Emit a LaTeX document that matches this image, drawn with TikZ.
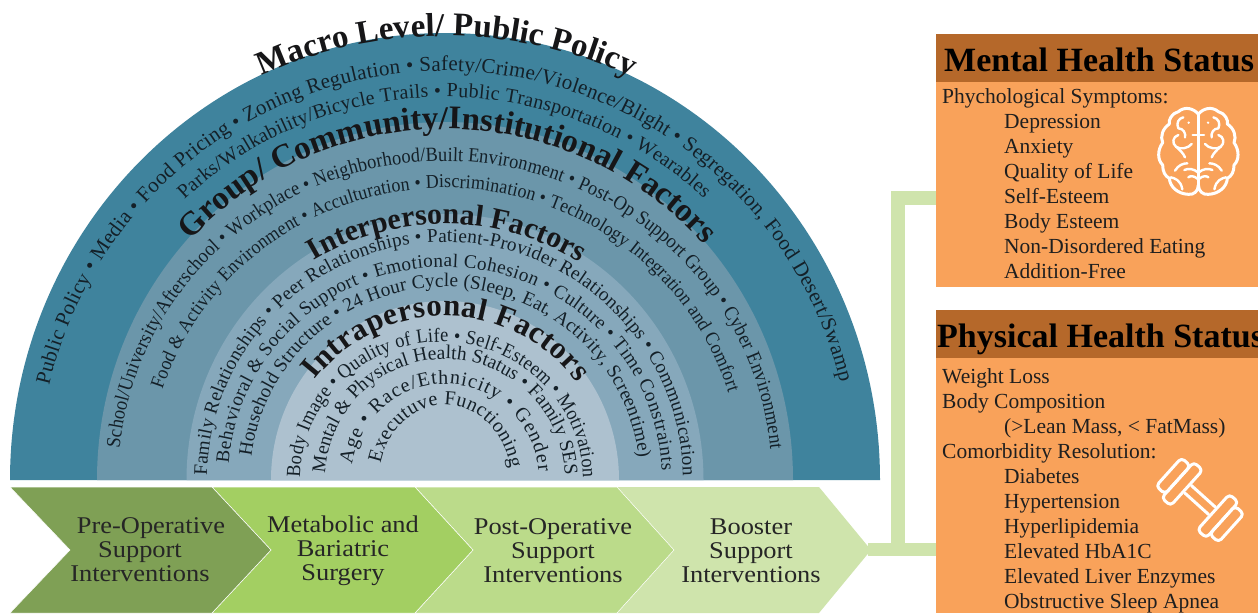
\documentclass[tikz,border=0pt]{standalone}
\usepackage{fontspec}
\setmainfont{Liberation Serif}
\newfontfamily\narrowserif[FakeStretch=0.92]{Liberation Serif}
\newfontfamily\wideserif[FakeStretch=1.1]{Liberation Serif}
\usetikzlibrary{decorations.text}
\definecolor{ringa}{RGB}{63,131,157}
\definecolor{ringb}{RGB}{107,150,170}
\definecolor{ringc}{RGB}{134,168,187}
\definecolor{ringd}{RGB}{173,193,207}
\definecolor{inkblue}{RGB}{20,32,40}
\definecolor{titleink}{RGB}{22,22,24}
\definecolor{chevA}{RGB}{127,160,85}
\definecolor{chevB}{RGB}{163,207,98}
\definecolor{chevC}{RGB}{187,219,138}
\definecolor{chevD}{RGB}{207,228,172}
\definecolor{headorange}{RGB}{181,104,42}
\definecolor{bodyorange}{RGB}{249,162,90}
\newcommand{\minorfont}[1]{\fontsize{#1}{24}\selectfont\color{inkblue}}
\newcommand{\tightfont}[1]{\narrowserif\fontsize{#1}{24}\selectfont\color{inkblue}}
\newcommand{\majorfont}[1]{\fontsize{#1}{36}\selectfont\bfseries\color{titleink}}
% #1 cx #2 rx #3 ry #4 start #5 end #6 font #7 text
\newcommand{\arctext}[7]{%
  \path[decorate,decoration={text along path,text align={fit to path},text={|#6|#7}}]
    (#1,-480) ++(#4:#2pt and #3pt) arc[start angle=#4,end angle=#5,x radius=#2pt,y radius=#3pt];}
\newcommand{\ringfill}[3]{%
  \fill[#3] (445,-480) ++(-#1,0) arc[start angle=180,end angle=0,x radius=#1pt,y radius=#2pt] -- cycle;}
\tikzset{
  panelbox/.style={anchor=north west,inner sep=0pt,outer sep=0pt,fill=bodyorange,minimum width=323pt},
  headbox/.style={anchor=north west,inner sep=0pt,outer sep=0pt,fill=headorange,minimum width=323pt,minimum height=48pt},
  headtext/.style={anchor=base west,inner sep=0pt,font=\fontsize{34}{36}\selectfont\bfseries,text=black},
  bodytext/.style={anchor=base west,inner sep=0pt,font=\fontsize{21.5}{24}\selectfont,text=black!88},
  chevtext/.style={align=center,inner sep=0pt,font=\wideserif\fontsize{24}{24}\selectfont,text=black!85},
  conn/.style={draw=chevD,line width=13.5pt},
  icon/.style={draw=white,line width=3pt,line cap=round,line join=round},
  iconthin/.style={draw=white,line width=2.4pt,line cap=round,line join=round}
}
\newcommand{\brainhalf}{%
  \draw[icon] (145,42) .. controls (130,25) and (105,18) .. (85,35)
     .. controls (65,40) and (55,60) .. (58,72)
     .. controls (38,85) and (30,110) .. (38,128)
     .. controls (22,150) and (22,180) .. (38,195)
     .. controls (38,215) and (45,228) .. (58,235)
     .. controls (60,262) and (85,282) .. (115,283)
     .. controls (130,285) and (145,275) .. (145,255);
  \draw[iconthin] (145,42) -- (145,255);
  \draw[iconthin] (145,105) -- (128,105);
  \draw[iconthin] (100,52) .. controls (85,55) and (78,70) .. (85,85) .. controls (100,85) and (108,100) .. (105,112);
  \draw[iconthin] (85,105) .. controls (68,110) and (65,130) .. (78,140) .. controls (90,150) and (115,145) .. (125,132);
  \draw[iconthin] (78,140) .. controls (90,150) and (100,160) .. (105,172);
  \draw[iconthin] (112,190) .. controls (100,190) and (85,195) .. (75,212);
  \draw[iconthin] (145,218) .. controls (130,205) and (115,205) .. (103,210);
  \draw[iconthin] (62,232) .. controls (75,235) and (92,240) .. (97,268);
  \draw[iconthin] (145,238) .. controls (130,225) and (120,228) .. (115,232);
  \fill[white] (116,68) circle (4);
}
\begin{document}
\begin{tikzpicture}[x=1pt,y=1pt]
\useasboundingbox (0,0) rectangle (1258,-613);
\fill[white] (0,0) rectangle (1258,-613);
% rainbow rings
\coordinate (C) at (445,-480);
\ringfill{435}{447}{ringa}
\ringfill{348}{358}{ringb}
\ringfill{258.5}{266}{ringc}
\ringfill{174}{179}{ringd}
% texts
\arctext{445}{407}{409}{166.6}{14}{\minorfont{21}}{Public Policy • Media • Food Pricing • Zoning Regulation •  Safety/Crime/Violence/Blight • Segregation, Food Desert/Swamp}
\arctext{445}{382}{383}{133}{47.4}{\minorfont{20}}{Parks/Walkability/Bicycle Trails • Public Transportation • Wearables}
\arctext{445}{445}{444}{114.3}{65.3}{\majorfont{33}}{Macro Level/ Public Policy}
\arctext{445}{349}{351}{136.9}{42.1}{\majorfont{33}}{Group/ Community/Institutional Factors}
\arctext{445}{327}{319}{174.3}{5.6}{\tightfont{20}}{School/University/Afterschool • Workplace • Neighborhood/Built Environment • Post-Op Support Group • Cyber Environment}
\arctext{445}{297}{292}{162}{17.4}{\tightfont{19.5}}{Food {\&} Activity Environment • Acculturation • Discrimination • Technology Integration and Comfort}
\arctext{445}{256}{256}{120.8}{58.8}{\majorfont{30}}{Interpersonal Factors}
\arctext{445}{238}{238}{179}{1}{\minorfont{19.3}}{Family Relationships • Peer Relationships • Patient-Provider Relationships • Communication}
\arctext{445}{217}{213}{175.5}{2.6}{\minorfont{19.2}}{Behavioral {\&} Social Support • Emotional Cohesion • Culture • Time Constraints}
\arctext{445}{195}{193}{173}{6.5}{\minorfont{19.3}}{Household Structure • 24 Hour Cycle (Sleep, Eat, Activity, Screentime)}
\arctext{445}{164}{164}{142.4}{36.4}{\majorfont{31}}{Intrapersonal Factors}
\arctext{441.5}{141.5}{138}{179}{1}{\tightfont{20}}{Body Image • Quality of Life • Self-Esteem • Motivation}
\arctext{445}{120}{121}{176.7}{2.4}{\minorfont{19.5}}{Mental {\&} Physical Health Status • Family SES}
\arctext{445}{94}{96}{171}{5}{\minorfont{20}}{Age  •  Race/Ethnicity • Gender}
\arctext{445}{66}{75}{167}{9}{\minorfont{20}}{Executuve Functioning}
% connectors (under the boxes)
\coordinate (tip) at (868,-549.5);
\coordinate (junction) at (898,-549.5);
\coordinate (mentalin) at (935.5,-198);
\coordinate (physin) at (935.5,-549.5);
\draw[conn] (tip) -- (physin);
\draw[conn] (junction) -- (junction |- mentalin) -- (mentalin);
% boxes
\node[panelbox,minimum height=205pt] (mentalbox) at (935.5,-81.5) {};
\node[headbox] (mentalhead) at (935.5,-33.5) {};
\node[panelbox,minimum height=256pt] (physicalbox) at (935.5,-357) {};
\node[headbox] (physicalhead) at (935.5,-309.5) {};
% chevrons
\fill[chevD] (617,-487) -- (819,-487) -- (871,-550) -- (819,-613) -- (617,-613) -- (674,-550) -- cycle;
\draw[white,line width=0.5pt,fill=chevC] (415,-487) -- (617,-487) -- (674,-550) -- (617,-613) -- (415,-613) -- (473,-550) -- cycle;
\draw[white,line width=0.5pt,fill=chevB] (212,-487) -- (415,-487) -- (473,-550) -- (415,-613) -- (212,-613) -- (271,-550) -- cycle;
\draw[white,line width=0.5pt,fill=chevA] (10,-487) -- (212,-487) -- (271,-550) -- (212,-613) -- (10,-613) -- (70,-550) -- cycle;
\node[chevtext] (preop) at (140,-550) {\hspace*{22pt}Pre-Operative\\Support\\Interventions};
\node[chevtext] (surgery) at (343,-551) {Metabolic and\\Bariatric\\Surgery};
\node[chevtext] (postop) at (553,-551) {Post-Operative\\Support\\Interventions};
\node[chevtext] (booster) at (751,-551) {Booster\\Support\\Interventions};
% headers
\node[headtext] (mentaltitle) at (944,-71) {Mental Health Status};
\node[headtext] (physicaltitle) at (937,-347) {Physical Health Status};
% mental list
\node[bodytext] (m0) at (942,-103) {Phychological Symptoms:};
\node[bodytext] (m1) at (1004,-128) {Depression};
\node[bodytext] (m2) at (1004,-153) {Anxiety};
\node[bodytext] (m3) at (1004,-178) {Quality of Life};
\node[bodytext] (m4) at (1004,-203) {Self-Esteem};
\node[bodytext] (m5) at (1004,-228) {Body Esteem};
\node[bodytext] (m6) at (1004,-253) {Non-Disordered Eating};
\node[bodytext] (m7) at (1004,-278) {Addition-Free};
% physical list
\node[bodytext] (p0) at (942,-383) {Weight Loss};
\node[bodytext] (p1) at (942,-408) {Body Composition};
\node[bodytext] (p2) at (1004,-433) {(>Lean Mass, < FatMass)};
\node[bodytext] (p3) at (942,-458) {Comorbidity Resolution:};
\node[bodytext] (p4) at (1004,-483) {Diabetes};
\node[bodytext] (p5) at (1004,-508) {Hypertension};
\node[bodytext] (p6) at (1004,-533) {Hyperlipidemia};
\node[bodytext] (p7) at (1004,-558) {Elevated HbA1C};
\node[bodytext] (p8) at (1004,-583) {Elevated Liver Enzymes};
\node[bodytext] (p9) at (1004,-608) {Obstructive Sleep Apnea};
% brain icon
\begin{scope}[shift={(1150,-100)},x=0.3333pt,y=-0.3333pt]
  \brainhalf
\end{scope}
\begin{scope}[shift={(1150,-100)},x=-0.3333pt,y=-0.3333pt,xshift=96.7pt]
  \brainhalf
\end{scope}
% dumbbell icon
\begin{scope}[shift={(1200,-500)},rotate=-42,x=1pt,y=1pt]
  \draw[icon] (-16,-5) -- (16,-5) (-16,5) -- (16,5);
  \draw[icon,rounded corners=4pt] (-30,-24) rectangle (-18,24);
  \draw[icon,rounded corners=4pt] (18,-24) rectangle (30,24);
  \draw[icon,rounded corners=4pt] (-42,-19) rectangle (-30,19);
  \draw[icon,rounded corners=4pt] (30,-19) rectangle (42,19);
\end{scope}
\end{tikzpicture}
\end{document}
